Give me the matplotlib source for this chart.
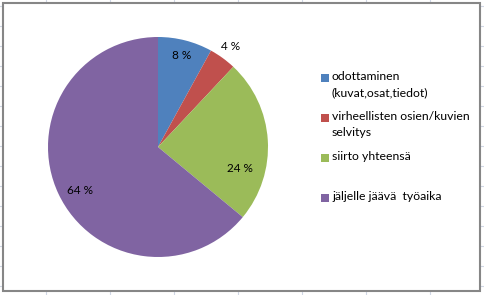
import matplotlib.pyplot as plt
import numpy as np
from matplotlib.lines import Line2D
from matplotlib.patches import Rectangle

# data
labels = ["odottaminen\n(kuvat,osat,tiedot)",
          "virheellisten osien/kuvien\nselvitys",
          "siirto yhteensä",
          "jäljelle jäävä  työaika"]
values = [8, 4, 24, 64]
colors = ["#4F81BD", "#C0504D", "#9BBB59", "#8064A2"]

# label placement per slice (radius, angle shift in degrees)
label_dist = [0.86, 1.13, 0.77, 0.81]
label_shift = [0, 0, -18, 4]

plt.rcParams['font.family'] = ['Lato', 'DejaVu Sans']

W, H = 485, 295
fig = plt.figure(figsize=(W / 100, H / 100), dpi=100)
fig.patch.set_facecolor("white")

# spreadsheet grid behind the chart
for gx in np.arange(46, W, 64):
    fig.add_artist(Line2D([gx / W, gx / W], [0, 1], color="#D0D7E5", lw=0.8, zorder=-3))
for gy in np.arange(6, H, 20):
    fig.add_artist(Line2D([0, 1], [1 - gy / H, 1 - gy / H], color="#D0D7E5", lw=0.8, zorder=-3))

# chart area
fig.add_artist(Rectangle((3 / W, 1 - 291 / H), 477 / W, 288 / H,
                         facecolor="white", edgecolor="#868686", lw=1.5,
                         transform=fig.transFigure, zorder=-2))

# pie axes: centre (158,147) px, radius 110 px
cx, cy, r = 158, 147, 110
ax = fig.add_axes([(cx - r) / W, 1 - (cy + r) / H, 2 * r / W, 2 * r / H])
ax.patch.set_alpha(0)
wedges, _ = ax.pie(values, colors=colors, startangle=90, counterclock=False,
                   radius=1, wedgeprops=dict(linewidth=0))
ax.set_xlim(-1, 1)
ax.set_ylim(-1, 1)
ax.axis("off")

for w, v, d, s in zip(wedges, values, label_dist, label_shift):
    mid = np.deg2rad((w.theta1 + w.theta2) / 2 + s)
    ax.text(d * np.cos(mid), d * np.sin(mid), f"{v} %", ha="center", va="center",
            fontsize=8.5, color="black")

# legend drawn by hand to mimic the Excel layout
leg_x, leg_y0, leg_step = 321, 78, 40
for i, (lab, col) in enumerate(zip(labels, colors)):
    y = leg_y0 + i * leg_step
    fig.add_artist(Rectangle((leg_x / W, 1 - (y + 4) / H), 8 / W, 8 / H,
                             facecolor=col, edgecolor="none",
                             transform=fig.transFigure))
    fig.text((leg_x + 11) / W, 1 - (y - 7) / H, lab, ha="left", va="top",
             fontsize=8.8, color="black", linespacing=1.6)

fig.savefig("out.png", dpi=100)
